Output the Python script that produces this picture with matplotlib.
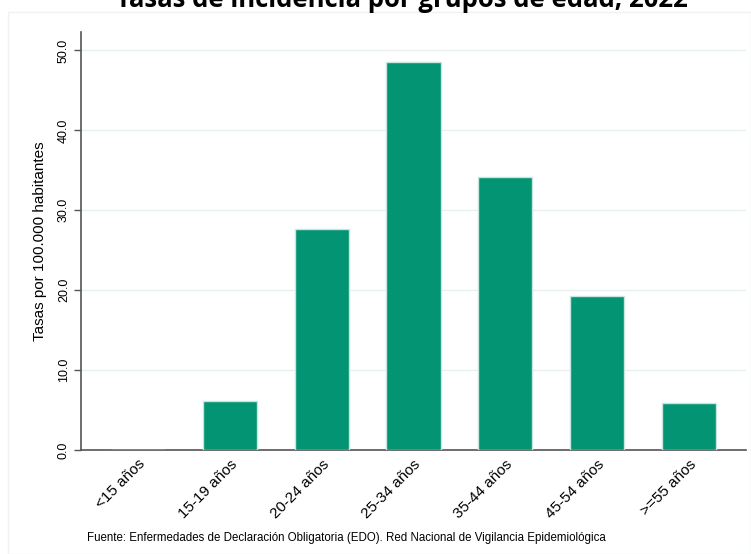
import matplotlib
matplotlib.use("Agg")
import matplotlib.pyplot as plt
from matplotlib.patches import Rectangle

grupos = ["<15 años", "15-19 años", "20-24 años", "25-34 años", "35-44 años", "45-54 años", ">=55 años"]
tasas = [0.0, 6.1, 27.6, 48.5, 34.1, 19.3, 5.9]
yticks = [0, 10, 20, 30, 40, 50]

plt.rcParams['font.family'] = ['Liberation Sans', 'DejaVu Sans']

fig = plt.figure(figsize=(7.51, 5.54), dpi=100)
ax = fig.add_axes([0.1079, 0.1877, 0.8854, 0.7545])

# faint frame round the whole graph
fig.patches.append(Rectangle((0.010, 0.0), 0.99, 0.978, transform=fig.transFigure,
                             fill=False, edgecolor='#eef2f2', linewidth=1))

x = list(range(len(grupos)))
ax.bar(x, tasas, width=0.59, color='#039474', edgecolor='#c8e6df', linewidth=1, zorder=3)

ax.set_xlim(-0.62, 6.62)
ax.set_ylim(0, 52.3)
ax.set_yticks(yticks)
ax.set_yticklabels([f"{v:.1f}" for v in yticks], rotation=90, va='center', fontsize=9)
ax.set_xticks(x)
ax.set_xticklabels(grupos, rotation=45, ha='right', rotation_mode='anchor', fontsize=11)
ax.tick_params(axis='x', length=0, pad=5)
ax.tick_params(axis='y', length=5, width=1, color='#555555', pad=3)
ax.grid(axis='y', color='#e8f0f0', linewidth=1, zorder=0)

for s in ['top', 'right']:
    ax.spines[s].set_visible(False)
for s in ['left', 'bottom']:
    ax.spines[s].set_color('#555555')
    ax.spines[s].set_linewidth(1.2)

ax.set_ylabel("Tasas por 100.000 habitantes", fontsize=11, labelpad=8)

fig.text(0.535, 1 - 7 / 554, "Tasas de incidencia por grupos de edad, 2022", ha='center', va='baseline',
         fontsize=18.5, fontweight='bold', family=['Open Sans', 'DejaVu Sans'])
fig.text(0.116, 0.028, "Fuente: Enfermedades de Declaración Obligatoria (EDO). Red Nacional de Vigilancia Epidemiológica",
         fontsize=8.3, ha='left', va='center')

fig.savefig("out.png", dpi=100)
